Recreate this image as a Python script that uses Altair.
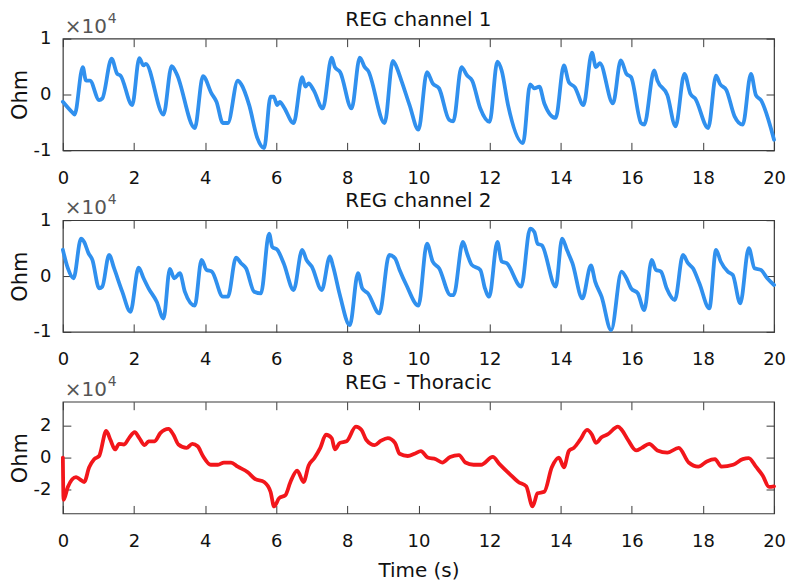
import altair as alt
import pandas as pd

# ---- data (values in units of 1e4 Ohm) ----
t1 = [0, 0.28, 0.33, 0.56, 0.65, 0.76, 1.02, 1.11, 1.37, 1.53, 1.62, 1.95, 2.15, 2.27, 2.33, 2.83,
      3.06, 3.2, 3.71, 3.94, 4.18, 4.32, 4.5, 4.64, 4.92, 5.01, 5.24, 5.47, 5.66, 5.84, 5.93, 6.03,
      6.1, 6.21, 6.49, 6.73, 6.82, 6.91, 7.05, 7.31, 7.56, 7.65, 7.8, 8.12, 8.35, 8.49, 8.58, 9.05,
      9.28, 9.34, 9.52, 9.75, 10.0, 10.24, 10.4, 10.58, 10.86, 10.98, 11.21, 11.37, 11.51, 11.74,
      12.0, 12.22, 12.34, 12.52, 12.94, 13.14, 13.26, 13.4, 13.54, 13.86, 14.09, 14.23, 14.4, 14.64,
      14.88, 14.99, 15.1, 15.47, 15.69, 15.85, 15.98, 16.26, 16.35, 16.63, 16.72, 17.0, 17.23, 17.48,
      17.65, 17.78, 18.15, 18.37, 18.48, 18.66, 18.89, 19.12, 19.35, 19.49, 19.63, 20.0]
v1 = [-0.13, -0.33, -0.36, 0.49, 0.25, 0.25, -0.1, -0.07, 0.64, 0.37, 0.34, -0.19, 0.65, 0.52, 0.55, -0.36,
      0.51, 0.37, -0.6, 0.33, 0.02, -0.13, -0.51, -0.51, 0.25, 0.19, -0.19, -0.78, -0.96, -0.04, -0.04, -0.19,
      -0.13, -0.22, -0.51, 0.31, 0.14, 0.2, 0.08, -0.25, 0.66, 0.49, 0.4, -0.25, 0.66, 0.49, 0.43, -0.51,
      0.6, 0.55, 0.25, -0.19, -0.63, 0.4, 0.2, 0.11, -0.45, -0.48, 0.49, 0.34, 0.25, -0.25,
      -0.49, 0.59, 0.43, -0.19, -0.87, 0.18, 0.11, 0.14, -0.16, -0.42, 0.52, 0.22, 0.13, -0.19,
      0.75, 0.49, 0.56, -0.16, 0.61, 0.37, 0.31, -0.51, -0.54, 0.43, 0.25, -0.01, -0.57, 0.37,
      0.01, -0.07, -0.6, 0.34, 0.19, 0.08, -0.39, -0.54, 0.37, -0.01, -0.1, -0.81]

t2 = [0, 0.14, 0.3, 0.51, 0.6, 0.72, 0.83, 1.02, 1.11, 1.3, 1.44, 1.67, 1.9, 2.13, 2.27, 2.41, 2.64,
      2.83, 3.01, 3.13, 3.29, 3.43, 3.71, 3.9, 4.04, 4.19, 4.5, 4.64, 4.87, 5.01, 5.15, 5.38, 5.57,
      5.8, 5.89, 6.03, 6.21, 6.49, 6.73, 6.85, 7.0, 7.28, 7.51, 7.6, 7.79, 8.07, 8.3, 8.42, 8.58,
      8.9, 9.18, 9.34, 9.47, 9.66, 10.0, 10.24, 10.4, 10.58, 10.9, 10.99, 11.25, 11.37, 11.5, 11.74,
      11.87, 11.99, 12.22, 12.34, 12.48, 12.89, 13.14, 13.26, 13.35, 13.47, 13.86, 14.04, 14.18,
      14.33, 14.61, 14.85, 14.97, 15.15, 15.42, 15.71, 15.85, 15.98, 16.17, 16.35, 16.56, 16.68,
      16.82, 16.98, 17.21, 17.44, 17.58, 17.72, 17.9, 18.18, 18.37, 18.5, 18.7, 18.84, 19.05, 19.29,
      19.45, 19.63, 19.81, 20.0]
v2 = [0.47, 0.14, -0.04, 0.67, 0.61, 0.41, 0.29, -0.22, -0.19, 0.38, 0.14, -0.28, -0.64, 0.15, -0.04, -0.22, -0.46,
      -0.76, 0.13, -0.04, 0.05, -0.28, -0.53, 0.29, 0.11, 0.08, -0.37, -0.37, 0.33, 0.23, 0.14, -0.28, -0.31,
      0.76, 0.52, 0.47, 0.23, -0.25, 0.47, 0.29, 0.17, -0.25, 0.35, 0.17, -0.34, -0.88, 0.05, -0.22, -0.31,
      -0.67, 0.38, 0.32, 0.11, -0.16, -0.53, 0.58, 0.26, 0.14, -0.34, -0.34, 0.61, 0.4, 0.2, 0.11,
      -0.22, -0.37, 0.61, 0.26, 0.23, -0.19, 0.85, 0.79, 0.58, 0.55, -0.19, 0.67, 0.46,
      0.23, -0.4, 0.19, -0.1, -0.37, -0.97, 0.08, -0.04, -0.22, -0.31, -0.61, 0.29, 0.11,
      0.08, -0.22, -0.43, 0.38, 0.23, 0.14, -0.13, -0.58, 0.47, 0.26, 0.08, 0.02, -0.49, 0.5,
      0.14, 0.11, -0.04, -0.16]

t3 = [0, 0.02, 0.14, 0.37, 0.47, 0.6, 0.74, 0.88, 1.02, 1.22, 1.34, 1.47, 1.58, 1.72, 1.86, 2.02,
      2.15, 2.3, 2.41, 2.58, 2.74, 2.97, 3.11, 3.25, 3.48, 3.64, 3.79, 3.94, 4.16, 4.36, 4.53, 4.73,
      4.92, 5.2, 5.4, 5.66, 5.84, 5.94, 6.08, 6.26, 6.4, 6.59, 6.77, 6.91, 7.07, 7.24, 7.4, 7.56,
      7.65, 7.79, 7.98, 8.24, 8.4, 8.53, 8.77, 8.95, 9.14, 9.34, 9.47, 9.7, 9.89, 10.07, 10.26,
      10.49, 10.67, 10.89, 11.14, 11.32, 11.55, 11.76, 12.09, 12.28, 12.56, 12.81, 13.03, 13.21,
      13.35, 13.54, 13.75, 13.95, 14.09, 14.23, 14.37, 14.55, 14.74, 14.88, 14.99, 15.15, 15.33,
      15.61, 15.72, 15.89, 16.12, 16.28, 16.49, 16.72, 17.0, 17.32, 17.6, 17.87, 18.11, 18.34,
      18.52, 18.85, 19.12, 19.29, 19.49, 19.68, 19.86, 20.0]
v3 = [0, -2.65, -1.84, -1.22, -1.35, -1.53, -0.61, -0.1, 0.1, 1.67, 1.1, 0.51, 0.86, 0.82, 1.22, 1.59,
      1.22, 0.78, 1.02, 1.02, 1.53, 1.8, 1.43, 0.82, 0.61, 0.86, 0.71, 0.1, -0.45, -0.45, -0.31, -0.31,
      -0.57, -0.92, -1.33, -1.53, -2.14, -3.06, -2.55, -2.35, -1.53, -0.82, -1.53, -0.51, -0.04, 0.61, 1.43, 1.22,
      0.51, 0.92, 1.02, 1.94, 1.73, 1.12, 0.78, 1.06, 1.22, 0.92, 0.24, 0.1, 0.24, 0.41, 0.0,
      -0.1, -0.31, 0.04, 0.16, -0.31, -0.45, -0.45, 0.04, -0.41, -1.02, -1.53, -1.8, -3.06,
      -2.24, -2.14, -0.61, 0.0, -0.61, 0.41, 0.61, 1.12, 1.73, 1.43, 0.92, 1.27, 1.47,
      1.94, 1.73, 1.12, 0.45, 0.61, 0.86, 0.45, 0.31, 0.61, -0.31, -0.57, -0.24, -0.1,
      -0.57, -0.45, -0.1, -0.04, -0.57, -1.12, -1.84, -1.8]

x_ticks = [0, 2, 4, 6, 8, 10, 12, 14, 16, 18, 20]
y_ticks_reg = [-1, 0, 1]
y_ticks_thor = [-2, 0, 2]
titles = ["REG channel 1", "REG channel 2", "REG - Thoracic"]
colors = ["#3090EE", "#3090EE", "#F2161B"]

FONT = "DejaVu Sans"
TICK = 8
FRAME = "#3a3a3a"
W = 713
H = 112
LABEL_EXPR = "datum.value < 0 ? '-' + abs(datum.value) : '' + datum.value"


def panel(t, v, title, color, ydomain, yticks, show_xtitle):
    df = pd.DataFrame({"t": t, "v": v})
    xscale = alt.Scale(domain=[0, 20], nice=False, zero=False)
    yscale = alt.Scale(domain=ydomain, nice=False, zero=False)
    common = dict(offset=-TICK, tickSize=TICK, domain=False, grid=False,
                  labelFlush=False, tickColor=FRAME, tickWidth=1)
    xaxis = alt.Axis(orient="bottom", values=x_ticks, labelPadding=19,
                     labelFont=FONT, labelFontSize=18, labelColor="#111",
                     labelExpr=LABEL_EXPR,
                     title="Time (s)" if show_xtitle else None,
                     titleFont=FONT, titleFontSize=20, titleFontWeight="normal",
                     titleColor="#111", titlePadding=10, **common)
    yaxis = alt.Axis(orient="left", values=yticks, labelPadding=12,
                     labelFont=FONT, labelFontSize=18, labelColor="#111",
                     labelExpr=LABEL_EXPR,
                     title="Ohm", titleFont=FONT, titleFontSize=21,
                     titleFontWeight="normal", titleColor="#111", titlePadding=3,
                     **common)
    main = alt.Chart(df).mark_line(color=color, strokeWidth=3.8, interpolate="monotone",
                                   strokeJoin="round", strokeCap="round").encode(
        x=alt.X("t:Q", scale=xscale, axis=xaxis),
        y=alt.Y("v:Q", scale=yscale, axis=yaxis),
    )
    ghost = alt.Chart(df).mark_line(opacity=0).encode(
        x=alt.X("t:Q", scale=xscale,
                axis=alt.Axis(orient="top", values=x_ticks, labels=False, title=None, **common)),
        y=alt.Y("v:Q", scale=yscale,
                axis=alt.Axis(orient="right", values=yticks, labels=False, title=None, **common)),
    )
    ttl = alt.Chart(pd.DataFrame({"s": [title]})).mark_text(
        font=FONT, fontSize=20, color="#111", align="center", baseline="alphabetic"
    ).encode(x=alt.value(W / 2), y=alt.value(-13), text="s:N")
    base10 = alt.Chart(pd.DataFrame({"s": ["\u00d710"]})).mark_text(
        font=FONT, fontSize=20, color="#555", align="left", baseline="alphabetic"
    ).encode(x=alt.value(2), y=alt.value(-6), text="s:N")
    expo = alt.Chart(pd.DataFrame({"s": ["4"]})).mark_text(
        font=FONT, fontSize=14, color="#555", align="left", baseline="alphabetic"
    ).encode(x=alt.value(45), y=alt.value(-16), text="s:N")
    return alt.layer(main, ghost, ttl, base10, expo).resolve_axis(
        x="independent", y="independent"
    ).properties(width=W, height=H)


p1 = panel(t1, v1, titles[0], colors[0], [-1, 1], y_ticks_reg, False)
p2 = panel(t2, v2, titles[1], colors[1], [-1, 1], y_ticks_reg, False)
p3 = panel(t3, v3, titles[2], colors[2], [-3.5, 3.5], y_ticks_thor, True)

chart = alt.vconcat(p1, p2, p3, spacing=70, bounds="flush").properties(
    padding={"top": 0, "left": 0, "right": 0, "bottom": 0}
).configure_view(stroke=FRAME, strokeWidth=1.2)

chart.save("out.html", embed_options={"renderer": "svg", "actions": False})
